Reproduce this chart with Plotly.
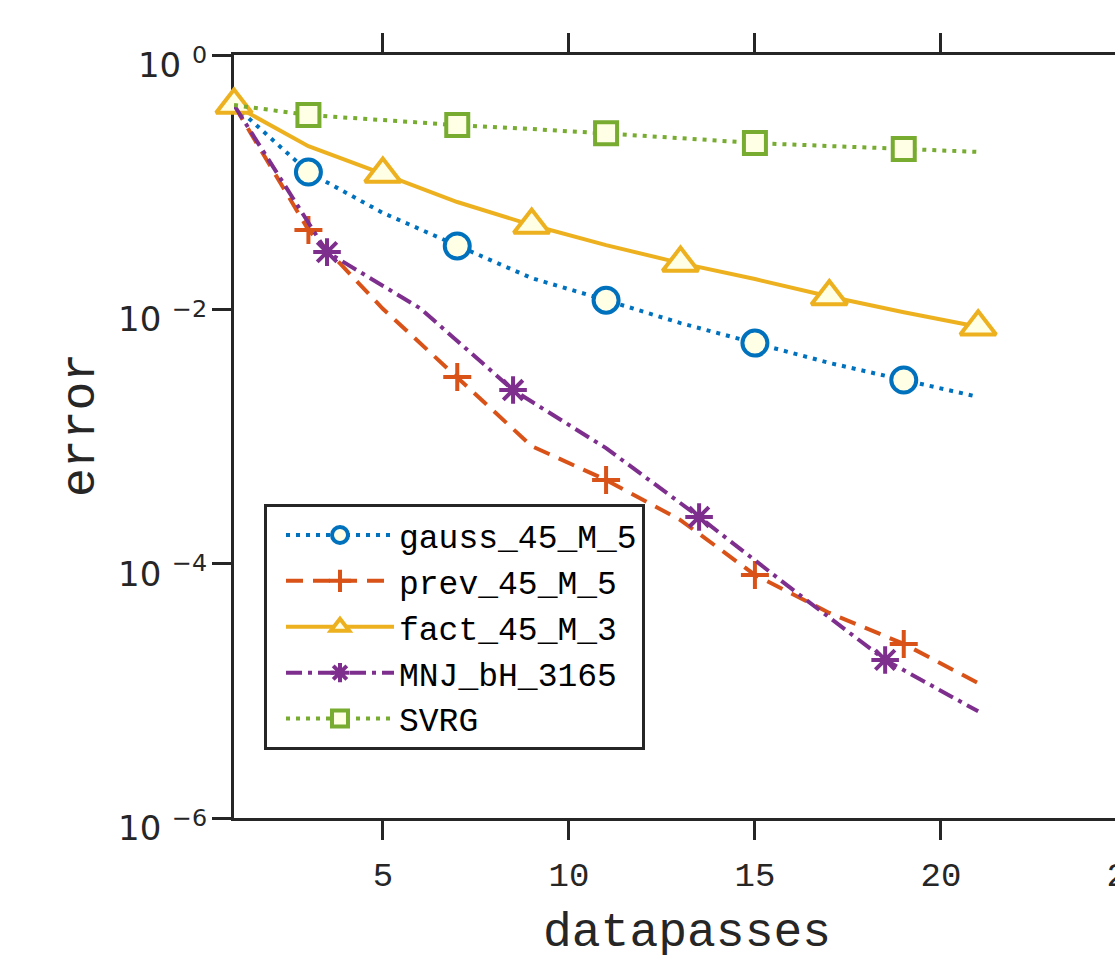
import plotly.graph_objects as go

# ---------------- data ----------------
x_passes = [1, 3, 5, 7, 9, 11, 13, 15, 17, 19, 21]
x_mnj = [1, 3.5, 6, 8.5, 11, 13.5, 16, 18.5, 21]

gauss_45_M_5 = [0.404, 0.120, 0.0573, 0.0315, 0.0176, 0.0118, 0.0078, 0.00543, 0.00379, 0.00278, 0.00205]
prev_45_M_5 = [0.404, 0.0421, 0.0101, 0.00294, 0.00084, 0.000455, 0.00022, 8.15e-5, 4.1e-5, 2.34e-5, 1.15e-5]
fact_45_M_3 = [0.404, 0.192, 0.116, 0.0698, 0.046, 0.032, 0.0231, 0.0173, 0.0126, 0.0095, 0.0073]
MNJ_bH_3165 = [0.404, 0.0282, 0.0102, 0.00232, 0.00081, 0.000233, 6.3e-5, 1.75e-5, 6.9e-6]
SVRG = [0.404, 0.337, 0.308, 0.281, 0.262, 0.243, 0.222, 0.203, 0.192, 0.182, 0.173]

series_names = ["gauss_45_M_5", "prev_45_M_5", "fact_45_M_3", "MNJ_bH_3165", "SVRG"]

x_tick_vals = [5, 10, 15, 20, 25]
y_tick_vals = [1e-6, 1e-4, 1e-2, 1]
y_tick_text = ["10\u00a0<sup>\u22126</sup>", "10\u00a0<sup>\u22124</sup>",
               "10\u00a0<sup>\u22122</sup>", "10\u00a0<sup>0</sup>"]
x_title = "datapasses"
y_title = "error"

# ---------------- styles ----------------
AX = "#262626"
FILL = "#FFFFE6"
MONO = "Liberation Mono"

styles = [
    dict(x=x_passes, y=gauss_45_M_5, color="#0072BD", dash="4px,6px", symbol="circle", size=25, mstart=1, fill=FILL),
    dict(x=x_passes, y=prev_45_M_5, color="#D95319", dash="17px,10px", symbol="cross-thin", size=20, mstart=1, fill=FILL),
    dict(x=x_passes, y=fact_45_M_3, color="#EDB120", dash="solid", symbol="triangle-up", size=31, mstart=0, fill=FILL),
    dict(x=x_mnj, y=MNJ_bH_3165, color="#7E2F8E", dash="16px,6px,4px,6px", symbol="asterisk-open", size=23, mstart=1, fill="#7E2F8E"),
    dict(x=x_passes, y=SVRG, color="#77AC30", dash="4px,6px", symbol="square", size=22, mstart=1, fill=FILL),
]

fig = go.Figure()
for name, st in zip(series_names, styles):
    line = dict(color=st["color"], width=4, dash=st["dash"])
    marker = dict(symbol=st["symbol"], size=st["size"], color=st["fill"],
                  line=dict(color=st["color"], width=4))
    fig.add_trace(go.Scatter(x=st["x"], y=st["y"], mode="lines", line=line,
                             showlegend=False, hoverinfo="skip"))
    fig.add_trace(go.Scatter(x=st["x"][st["mstart"]::2], y=st["y"][st["mstart"]::2],
                             mode="markers", marker=marker, cliponaxis=False,
                             showlegend=False, name=name))
    fig.add_trace(go.Scatter(x=[None], y=[None], mode="lines+markers", name=name,
                             line=line, marker=marker, showlegend=True))

# plot area: left edge at x=234, x=1 .. 25 spans 234..1127 px (right part is cut by the window)
W, H = 1160, 955
L, T, B = 234, 55, 137
px_per_unit = 37.2
PW = 24 * px_per_unit
PH = H - T - B
R = W - (L + PW)

fig.update_layout(
    width=W, height=H,
    margin=dict(l=L, r=R, t=T, b=B, pad=0, autoexpand=False),
    paper_bgcolor="white", plot_bgcolor="white",
    font=dict(family=MONO, color=AX),
    legend=dict(x=(264 - L) / PW, y=(818 - 504) / PH,
                xanchor="left", yanchor="top",
                bgcolor="white", bordercolor=AX, borderwidth=3,
                font=dict(family=MONO, size=33, color="black"),
                itemwidth=108, indentation=14, tracegroupgap=0),
    xaxis=dict(range=[1, 25], tickvals=x_tick_vals, ticks="outside", ticklen=19,
               tickwidth=3, tickcolor=AX, showline=True, linewidth=3, linecolor=AX,
               mirror="ticks", showgrid=False, zeroline=False, layer="below traces",
               automargin=False,
               tickfont=dict(family=MONO, size=34, color=AX), ticklabelstandoff=5),
    yaxis=dict(type="log", range=[-6, 0], tickvals=y_tick_vals, ticktext=y_tick_text,
               ticks="outside", ticklen=19, tickwidth=3, tickcolor=AX,
               showline=True, linewidth=3, linecolor=AX, mirror="ticks",
               showgrid=False, zeroline=False, layer="below traces",
               automargin=False,
               tickfont=dict(family="DejaVu Sans", size=34, color=AX),
               ticklabelstandoff=-2, ticklabelshift=10),
    annotations=[
        dict(text=x_title, xref="paper", yref="paper",
             x=(687 - L) / PW, y=(818 - 933) / PH, xanchor="center", yanchor="middle",
             showarrow=False, font=dict(family=MONO, size=48, color=AX)),
        dict(text=y_title, xref="paper", yref="paper", textangle=-90,
             x=(81 - L) / PW, y=(818 - 425) / PH, xanchor="center", yanchor="middle",
             showarrow=False, font=dict(family=MONO, size=48, color=AX)),
    ],
)

fig.write_html(
    "out.html",
    config={"displayModeBar": False},
    post_script="document.body.style.margin='0px';document.body.style.overflow='hidden';",
)
